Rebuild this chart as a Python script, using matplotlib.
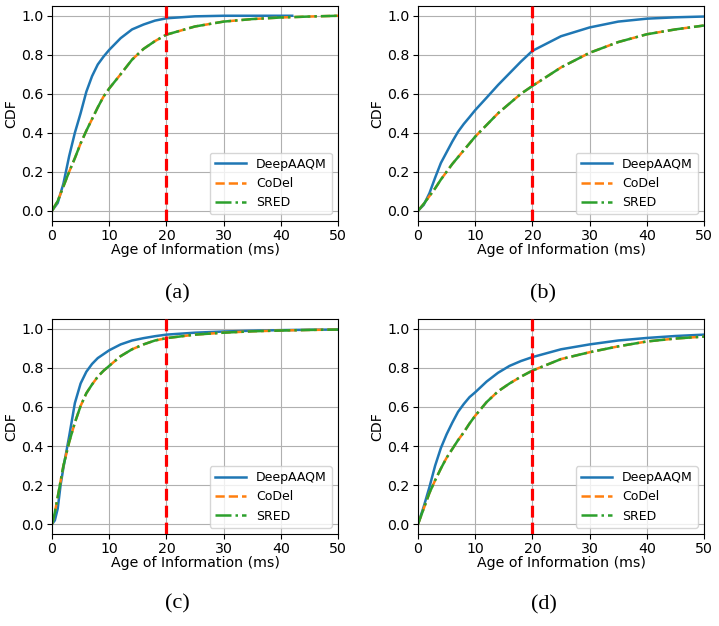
import matplotlib
matplotlib.use("Agg")
import matplotlib.pyplot as plt

# ---------------- data ----------------
series_names = ["DeepAAQM", "CoDel", "SRED"]
panel_labels = ["(a)", "(b)", "(c)", "(d)"]
xticks = [0, 10, 20, 30, 40, 50]
yticks = [0.0, 0.2, 0.4, 0.6, 0.8, 1.0]
threshold_ms = 20

# panel (a)
a_deep_x = [0, 1, 2, 3, 4, 5, 6, 7, 8, 9, 10, 12, 14, 16, 18, 20, 25, 30, 35, 42]
a_deep_y = [0, 0.04, 0.14, 0.28, 0.40, 0.50, 0.61, 0.69, 0.75, 0.79, 0.825, 0.885, 0.93, 0.955, 0.975, 0.987, 0.997, 1.0, 1.0, 1.0]
a_other_x = [0, 1, 2, 3, 4, 5, 6, 7, 8, 9, 10, 12, 14, 16, 18, 20, 25, 30, 35, 40, 45, 50]
a_codel_y = [0, 0.05, 0.125, 0.20, 0.27, 0.345, 0.41, 0.47, 0.53, 0.585, 0.627, 0.70, 0.775, 0.83, 0.87, 0.903, 0.945, 0.97, 0.983, 0.991, 0.996, 1.0]
a_sred_y = [0, 0.05, 0.125, 0.20, 0.27, 0.345, 0.41, 0.47, 0.53, 0.585, 0.627, 0.70, 0.775, 0.83, 0.87, 0.903, 0.945, 0.97, 0.983, 0.991, 0.996, 1.0]

# panel (b)
b_x = [0, 1, 2, 3, 4, 5, 6, 7, 8, 9, 10, 12, 14, 16, 18, 20, 25, 30, 35, 40, 45, 50]
b_deep_y = [0, 0.03, 0.09, 0.17, 0.245, 0.30, 0.355, 0.405, 0.445, 0.48, 0.516, 0.58, 0.645, 0.705, 0.765, 0.82, 0.895, 0.94, 0.97, 0.985, 0.992, 0.996]
b_codel_y = [0, 0.035, 0.075, 0.115, 0.16, 0.20, 0.24, 0.275, 0.31, 0.345, 0.38, 0.44, 0.50, 0.55, 0.60, 0.64, 0.735, 0.81, 0.865, 0.905, 0.93, 0.95]
b_sred_y = [0, 0.035, 0.075, 0.115, 0.16, 0.20, 0.24, 0.275, 0.31, 0.345, 0.38, 0.44, 0.50, 0.55, 0.60, 0.64, 0.735, 0.81, 0.865, 0.905, 0.93, 0.95]

# panel (c)
c_x = [0, 0.5, 1, 1.5, 2, 3, 4, 5, 6, 7, 8, 9, 10, 12, 14, 16, 18, 20, 25, 30, 35, 40, 45, 50]
c_deep_y = [0, 0.02, 0.08, 0.20, 0.29, 0.45, 0.62, 0.72, 0.78, 0.82, 0.85, 0.87, 0.89, 0.92, 0.94, 0.952, 0.962, 0.97, 0.98, 0.986, 0.99, 0.993, 0.995, 0.996]
c_codel_y = [0, 0.06, 0.14, 0.22, 0.30, 0.42, 0.52, 0.605, 0.67, 0.715, 0.755, 0.785, 0.81, 0.86, 0.895, 0.92, 0.94, 0.952, 0.97, 0.98, 0.987, 0.991, 0.994, 0.996]
c_sred_y = [0, 0.06, 0.14, 0.22, 0.30, 0.42, 0.52, 0.605, 0.67, 0.715, 0.755, 0.785, 0.81, 0.86, 0.895, 0.92, 0.94, 0.952, 0.97, 0.98, 0.987, 0.991, 0.994, 0.996]

# panel (d)
d_x = [0, 1, 2, 3, 4, 5, 6, 7, 8, 9, 10, 12, 14, 16, 18, 20, 25, 30, 35, 40, 45, 50]
d_deep_y = [0, 0.09, 0.19, 0.30, 0.39, 0.46, 0.52, 0.575, 0.615, 0.65, 0.675, 0.73, 0.775, 0.81, 0.835, 0.855, 0.895, 0.92, 0.94, 0.953, 0.963, 0.97]
d_codel_y = [0, 0.08, 0.16, 0.225, 0.285, 0.34, 0.385, 0.43, 0.47, 0.515, 0.555, 0.625, 0.68, 0.72, 0.755, 0.786, 0.845, 0.88, 0.91, 0.935, 0.95, 0.96]
d_sred_y = [0, 0.08, 0.16, 0.225, 0.285, 0.34, 0.385, 0.43, 0.47, 0.515, 0.555, 0.625, 0.68, 0.72, 0.755, 0.786, 0.845, 0.88, 0.91, 0.935, 0.95, 0.96]

panels = [
    ((a_deep_x, a_deep_y), (a_other_x, a_codel_y), (a_other_x, a_sred_y)),
    ((b_x, b_deep_y), (b_x, b_codel_y), (b_x, b_sred_y)),
    ((c_x, c_deep_y), (c_x, c_codel_y), (c_x, c_sred_y)),
    ((d_x, d_deep_y), (d_x, d_codel_y), (d_x, d_sred_y)),
]

# ---------------- figure ----------------
W, H = 719, 626
fig = plt.figure(figsize=(W / 100, H / 100), dpi=100)

def fx(px):
    return px / W

def fy(py):
    return 1 - py / H

# axes boxes in pixels: (left, top, right, bottom)
boxes = [(52, 6, 338, 220.5), (418, 6, 704, 220.5),
         (52, 319, 338, 534), (418, 319, 704, 534)]
caption_pos = [(177, 294), (543, 294), (177, 604), (544, 605)]

styles = [dict(color="#1f77b4", ls="-", lw=1.8),
          dict(color="#ff7f0e", ls="--", lw=1.8),
          dict(color="#2ca02c", ls="-.", lw=1.8)]

fs = 10.2
for i, (box, data) in enumerate(zip(boxes, panels)):
    l, t, r, b = box
    ax = fig.add_axes([fx(l), fy(b), fx(r - l), (b - t) / H])
    for (xs, ys), name, st in zip(data, series_names, styles):
        ax.plot(xs, ys, label=name, **st)
    ax.axvline(threshold_ms, color="red", ls="--", lw=2.3, zorder=5)
    ax.set_xlim(0, 50)
    ax.set_ylim(-0.05, 1.05)
    ax.set_xticks(xticks)
    ax.set_yticks(yticks)
    ax.tick_params(labelsize=fs, pad=2.5)
    ax.grid(True, color="#b0b0b0", lw=0.8)
    ax.set_axisbelow(True)
    ax.set_xlabel("Age of Information (ms)", fontsize=fs, labelpad=0)
    ax.set_ylabel("CDF", fontsize=fs, labelpad=2)
    ax.legend(loc="lower right", fontsize=9, handlelength=2.5)
    cx, cy = caption_pos[i]
    fig.text(fx(cx), fy(cy), panel_labels[i], ha="center", va="center",
             fontsize=16, family="Liberation Serif")

fig.savefig("out.png", dpi=100)
